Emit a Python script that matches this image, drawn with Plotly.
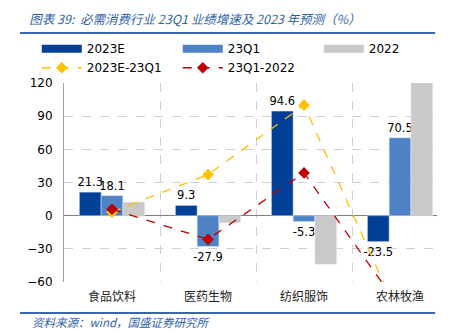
import plotly.graph_objects as go

categories = ["食品饮料", "医药生物", "纺织服饰", "农林牧渔"]
v2023e = [21.3, 9.3, 94.6, -23.5]
v23q1 = [18.1, -27.9, -5.3, 70.5]
v2022 = [12.3, -6.5, -44.0, 154.0]
diff_a = [a - b for a, b in zip(v2023e, v23q1)]   # 2023E-23Q1
diff_b = [a - b for a, b in zip(v23q1, v2022)]    # 23Q1-2022

C_DARK = "#023F97"
C_LIGHT = "#4F83C7"
C_GRAY = "#C9C9C9"
C_YEL = "#FFC000"
C_RED = "#C00000"
BLUE_TXT = "#2F5FA8"

NUMF = dict(family="DejaVu Sans, Verdana, sans-serif", size=11.5, color="#000000")

fig = go.Figure()

def lbl(vals):
    return [f"{v:.1f}" for v in vals]

fig.add_trace(go.Bar(x=categories, y=v2023e, name="2023E", marker_color=C_DARK,
                     text=lbl(v2023e), textposition="outside", textfont=NUMF,
                     cliponaxis=False, constraintext="none", showlegend=False,
                     legendgroup="a"))
fig.add_trace(go.Bar(x=categories, y=v23q1, name="23Q1", marker_color=C_LIGHT,
                     text=lbl(v23q1), textposition="outside", textfont=NUMF,
                     cliponaxis=False, constraintext="none", showlegend=False,
                     legendgroup="b"))
fig.add_trace(go.Bar(x=categories, y=v2022, name="2022", marker_color=C_GRAY,
                     showlegend=False, legendgroup="c"))

# legend-only entries styled as wide colour blocks
for nm, col, grp in [("2023E", C_DARK, "a"), ("23Q1", C_LIGHT, "b"), ("2022", C_GRAY, "c")]:
    fig.add_trace(go.Scatter(x=[None], y=[None], mode="lines", name=nm,
                             line=dict(color=col, width=8), legendgroup=grp))

fig.add_trace(go.Scatter(x=categories, y=diff_a, name="2023E-23Q1", mode="lines+markers",
                         line=dict(color=C_YEL, width=1.3, dash="dash"),
                         marker=dict(symbol="diamond", size=9, color=C_YEL)))
fig.add_trace(go.Scatter(x=categories, y=diff_b, name="23Q1-2022", mode="lines+markers",
                         line=dict(color=C_RED, width=1.3, dash="dash"),
                         marker=dict(symbol="diamond", size=9, color=C_RED)))

fig.update_layout(
    width=451, height=331,
    margin=dict(l=64, r=14, t=83, b=49, autoexpand=False),
    paper_bgcolor="white", plot_bgcolor="white",
    barmode="group", bargap=0.32, bargroupgap=0,
    font=dict(family="DejaVu Sans, Verdana, sans-serif", size=12, color="#000000"),
    legend=dict(orientation="h", xref="paper", yref="paper",
                x=-0.073, y=1.245, xanchor="left", yanchor="top",
                entrywidth=86, entrywidthmode="pixels", itemwidth=40,
                tracegroupgap=0, font=dict(size=12, color="#000000"),
                bgcolor="rgba(0,0,0,0)", traceorder="normal"),
    xaxis=dict(type="category", range=[-0.5, 3.385], tickson="boundaries",
               showgrid=True, gridcolor="#D0D0D0", griddash="dash", gridwidth=1,
               ticks="", showline=False, zeroline=False, ticklabelstandoff=6,
               tickfont=dict(family="Noto Sans CJK SC", size=12, color="#222222")),
    yaxis=dict(range=[-60, 120], dtick=30, tick0=0, showgrid=True,
               gridcolor="#D0D0D0", griddash="dash", gridwidth=1,
               zeroline=True, zerolinecolor="#808080", zerolinewidth=1,
               showline=True, linecolor="#A0A0A0", linewidth=1,
               ticks="", ticklabelstandoff=8,
               tickfont=dict(family="DejaVu Sans, Verdana, sans-serif", size=12, color="#000000")),
    title=dict(text="图表 39:  必需消费行业 23Q1 业绩增速及 2023 年预测（%）",
               xref="container", yref="container", x=0.065, y=0.94,
               xanchor="left", yanchor="middle",
               font=dict(family="Noto Sans CJK SC", size=12.5, color=BLUE_TXT, style="italic")),
)

fig.add_shape(type="line", xref="paper", yref="paper", x0=-0.118, x1=0.995, y0=1.251, y1=1.251,
              line=dict(color="#3A66AE", width=2))
fig.add_shape(type="line", xref="paper", yref="paper", x0=-0.118, x1=0.995, y0=-0.156, y1=-0.156,
              line=dict(color="#3A66AE", width=2))
fig.add_annotation(text="资料来源：wind，国盛证券研究所", xref="paper", yref="paper",
                   x=-0.091, y=-0.201, xanchor="left", yanchor="middle", showarrow=False,
                   font=dict(family="Noto Sans CJK SC", size=11.5, color=BLUE_TXT, style="italic"))

fig.write_html("out.html")
